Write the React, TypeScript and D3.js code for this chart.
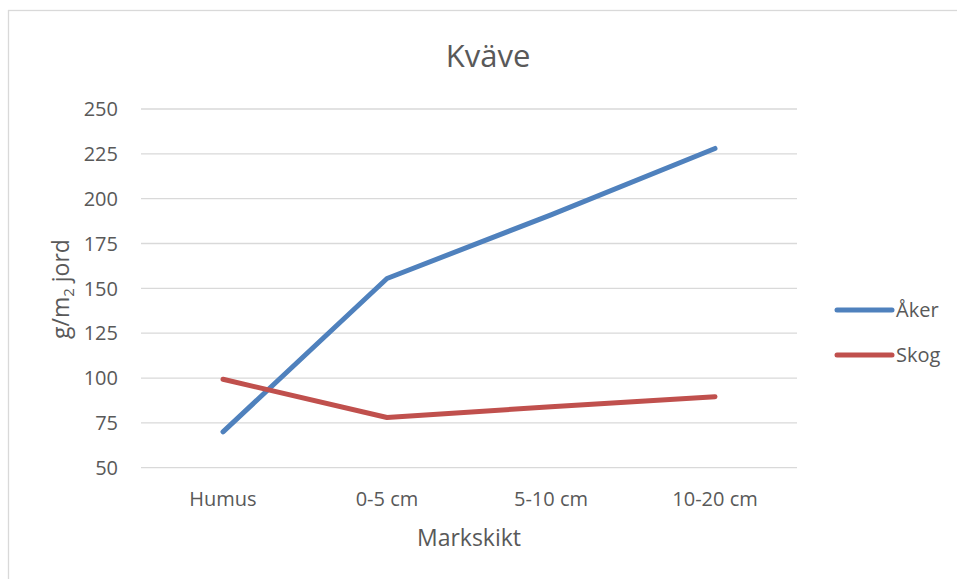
import React from "react";
import * as d3 from "d3";

const categories = ["Humus", "0-5 cm", "5-10 cm", "10-20 cm"];
const akerValues = [70, 155.5, 191, 228];
const skogValues = [99.3, 78, 84, 89.6];
const yTicks = [50, 75, 100, 125, 150, 175, 200, 225, 250];
const seriesNames = ["Åker", "Skog"];
const seriesColors = ["#4F81BD", "#C0504D"];

const W = 957;
const H = 579;
const FONT = "'Open Sans', 'Noto Sans', sans-serif";
const TEXT = "#595959";
const GRID = "#D9D9D9";

export default function App() {
  const x = d3.scalePoint<string>().domain(categories).range([141, 797]).padding(0.5);
  const y = d3.scaleLinear().domain([50, 250]).range([467.7, 109]);
  const line = d3
    .line<number>()
    .x((_, i) => x(categories[i]) as number)
    .y((d) => y(d));
  const series = [akerValues, skogValues];

  return (
    <svg
      width={W}
      height={H}
      style={{ position: "absolute", left: 0, top: 0, background: "#fff" }}
    >
      <rect x={8.5} y={10.5} width={980} height={600} fill="#fff" stroke={GRID} strokeWidth={1.3} />
      <text x={488} y={66.5} textAnchor="middle" fontFamily={FONT} fontSize={31} fill={TEXT}>
        Kväve
      </text>
      {yTicks.map((t) => (
        <g key={t}>
          <line x1={141} x2={797} y1={y(t)} y2={y(t)} stroke={GRID} strokeWidth={1.3} />
          <text
            x={118}
            y={y(t)}
            dy="0.36em"
            textAnchor="end"
            fontFamily={FONT}
            fontSize={20}
            fill={TEXT}
          >
            {t}
          </text>
        </g>
      ))}
      {categories.map((c) => (
        <text
          key={c}
          x={x(c)}
          y={506}
          textAnchor="middle"
          fontFamily={FONT}
          fontSize={20}
          fill={TEXT}
        >
          {c}
        </text>
      ))}
      <text x={469} y={546} textAnchor="middle" fontFamily={FONT} fontSize={23} fill={TEXT}>
        Markskikt
      </text>
      <text
        transform={`translate(69,289) rotate(-90)`}
        textAnchor="middle"
        fontFamily={FONT}
        fontSize={23}
        fill={TEXT}
      >
        g/m
        <tspan fontSize={15} dy={5}>
          2
        </tspan>
        <tspan dy={-5}> jord</tspan>
      </text>
      {series.map((vals, i) => (
        <path
          key={seriesNames[i]}
          d={line(vals) as string}
          fill="none"
          stroke={seriesColors[i]}
          strokeWidth={5}
          strokeLinecap="round"
          strokeLinejoin="round"
        />
      ))}
      {seriesNames.map((n, i) => (
        <g key={n}>
          <line
            x1={837}
            x2={892}
            y1={310 + i * 45}
            y2={310 + i * 45}
            stroke={seriesColors[i]}
            strokeWidth={5}
            strokeLinecap="round"
          />
          <text x={896} y={310 + i * 45} dy="0.36em" fontFamily={FONT} fontSize={20} fill={TEXT}>
            {n}
          </text>
        </g>
      ))}
    </svg>
  );
}
